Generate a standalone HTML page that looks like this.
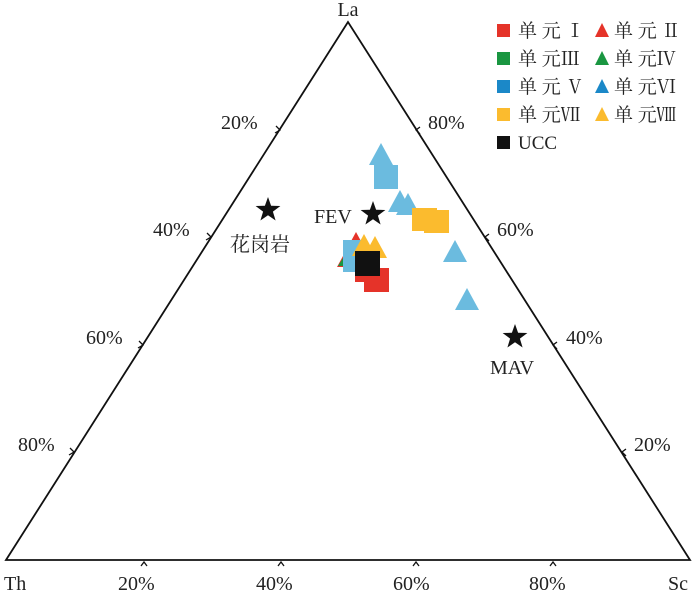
<!DOCTYPE html><html><head><style>body{margin:0;background:#fff}svg{display:block}text{font-family:"Liberation Serif","Noto Serif CJK SC",serif;fill:#222}</style></head><body>
<svg width="700" height="593" viewBox="0 0 700 593">
<defs>
<polygon id="tri" points="0,-12 12,10 -12,10"/>
<polygon id="star" points="0,-13 3.1,-4.2 12.4,-4 4.9,1.6 7.6,10.5 0,5.2 -7.6,10.5 -4.9,1.6 -12.4,-4 -3.1,-4.2"/>
</defs>
<polygon points="348,22 6,560 690,560" fill="none" stroke="#111" stroke-width="1.8"/>
<g stroke="#111" stroke-width="1.3" fill="none">
<polyline points="276,126 280,130 275,133"/><polyline points="207,233 211,237 206,240"/><polyline points="139,341 143,345 138,348"/><polyline points="70,448 74,452 69,455"/>
<polyline points="420,127 416,130 420,134"/><polyline points="489,234 485,237 489,241"/><polyline points="557,342 553,345 557,349"/><polyline points="626,449 622,452 626,456"/>
<polyline points="141,566 144,562 147,566"/><polyline points="278,566 281,562 284,566"/><polyline points="413,566 416,562 419,566"/><polyline points="550,566 553,562 556,566"/>
</g>
<g font-size="20">
<text x="348" y="16" text-anchor="middle">La</text>
<text x="4" y="590">Th</text><text x="668" y="590">Sc</text>
<text x="221" y="129">20%</text><text x="153" y="236">40%</text><text x="86" y="344">60%</text><text x="18" y="451">80%</text>
<text x="428" y="129">80%</text><text x="497" y="236">60%</text><text x="566" y="344">40%</text><text x="634" y="451">20%</text>
<text x="118" y="590">20%</text><text x="256" y="590">40%</text><text x="393" y="590">60%</text><text x="529" y="590">80%</text>
<text x="230" y="251">花岗岩</text><text x="314" y="223">FEV</text><text x="490" y="374">MAV</text>
</g>
<g font-size="19">
<rect x="497" y="24" width="13" height="13" fill="#e53329"/><text x="518" y="37">单 元 Ⅰ</text>
<polygon points="602,23 609,37 595,37" fill="#e53329"/><text x="614" y="37">单 元 Ⅱ</text>
<rect x="497" y="52" width="13" height="13" fill="#1a9641"/><text x="518" y="65">单 元Ⅲ</text>
<polygon points="602,51 609,65 595,65" fill="#1a9641"/><text x="614" y="65">单 元Ⅳ</text>
<rect x="497" y="80" width="13" height="13" fill="#1b88c8"/><text x="518" y="93">单 元 Ⅴ</text>
<polygon points="602,79 609,93 595,93" fill="#1b88c8"/><text x="614" y="93">单 元Ⅵ</text>
<rect x="497" y="108" width="13" height="13" fill="#fbbb2e"/><text x="518" y="121">单 元Ⅶ</text>
<polygon points="602,107 609,121 595,121" fill="#fbbb2e"/><text x="614" y="121">单 元Ⅷ</text>
<rect x="497" y="136" width="13" height="13" fill="#111"/><text x="518" y="149">UCC</text>
</g>
<g fill="#6bbbdf">
<use href="#tri" x="381" y="155"/>
<rect x="374" y="165" width="24" height="24"/>
<use href="#tri" x="400" y="202"/><use href="#tri" x="408" y="205"/>
<use href="#tri" x="455" y="252"/><use href="#tri" x="467" y="300"/>
</g>
<g fill="#fbbb2e"><rect x="412" y="208" width="25" height="23"/><rect x="424" y="210" width="25" height="23"/></g>
<g fill="#e53329"><use href="#tri" x="356" y="244"/><use href="#tri" x="349" y="257"/><rect x="355" y="262" width="25" height="20"/><rect x="364" y="268" width="25" height="24"/></g>
<polygon points="343,258 348,266 338,266" fill="#1a9641"/>
<g fill="#6bbbdf"><rect x="343" y="240" width="20" height="22"/><rect x="343" y="252" width="18" height="20"/></g>
<g fill="#fbbb2e"><use href="#tri" x="364" y="246"/><use href="#tri" x="375" y="248"/><rect x="356" y="250" width="25" height="8"/></g>
<rect x="355" y="251" width="25" height="25" fill="#111"/>
<g fill="#111"><use href="#star" x="268" y="210"/><use href="#star" x="373" y="214"/><use href="#star" x="515" y="337"/></g>
</svg></body></html>
